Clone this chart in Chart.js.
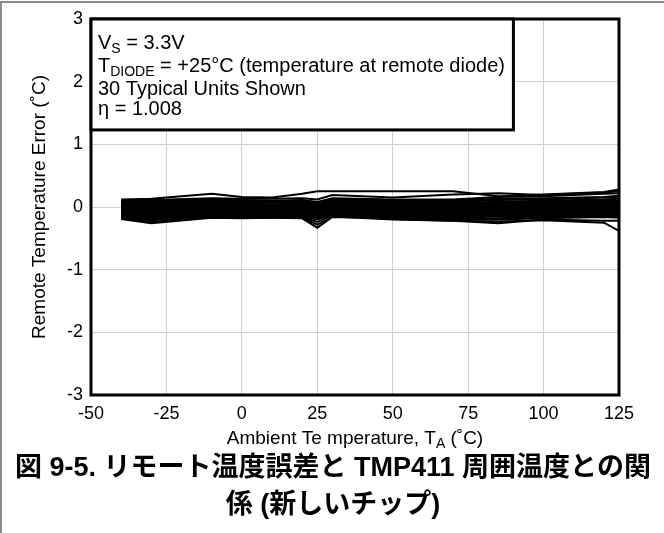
<!DOCTYPE html>
<html>
<head>
<meta charset="utf-8">
<script src="https://cdn.jsdelivr.net/npm/chart.js@4.4.1/dist/chart.umd.min.js"></script>
<style>
  html, body { margin: 0; padding: 0; background: #fff; }
</style>
</head>
<body>
<canvas id="chart" width="664" height="533"></canvas>
<script>
// ambient temperature points (°C)
const temps = [-40, -30, -10, 0, 10, 20, 25, 30, 50, 70, 85, 100, 120, 125];

// remote temperature error (°C), 30 typical units
const unit01 = [0.12, 0.13, 0.21, 0.16, 0.15, 0.21, 0.25, 0.25, 0.25, 0.25, 0.17, 0.20, 0.24, 0.28];
const unit02 = [0.10, 0.11, 0.14, 0.13, 0.13, 0.14, 0.12, 0.19, 0.15, 0.20, 0.22, 0.19, 0.23, 0.25];
const unit03 = [0.09, 0.09, 0.12, 0.11, 0.10, 0.11, 0.08, 0.14, 0.12, 0.12, 0.16, 0.17, 0.21, 0.22];
const unit04 = [0.08, 0.08, 0.11, 0.10, 0.09, 0.09, 0.07, 0.12, 0.11, 0.10, 0.13, 0.14, 0.16, 0.18];
const unit05 = [0.06, 0.07, 0.09, 0.08, 0.08, 0.08, 0.05, 0.10, 0.09, 0.08, 0.11, 0.12, 0.15, 0.15];
const unit06 = [0.07, 0.05, 0.08, 0.06, 0.07, 0.06, 0.03, 0.08, 0.07, 0.07, 0.08, 0.10, 0.12, 0.13];
const unit07 = [0.05, 0.04, 0.06, 0.05, 0.04, 0.05, 0.02, 0.07, 0.06, 0.05, 0.07, 0.09, 0.10, 0.10];
const unit08 = [0.04, 0.03, 0.05, 0.04, 0.04, 0.04, 0.00, 0.05, 0.04, 0.04, 0.05, 0.07, 0.09, 0.08];
const unit09 = [0.03, 0.02, 0.04, 0.02, 0.03, 0.02, -0.01, 0.04, 0.03, 0.02, 0.04, 0.05, 0.07, 0.07];
const unit10 = [0.02, 0.01, 0.03, 0.02, 0.01, 0.02, -0.02, 0.04, 0.02, 0.02, 0.03, 0.04, 0.05, 0.05];
const unit11 = [0.01, 0.00, 0.02, 0.00, 0.01, 0.00, -0.03, 0.02, 0.01, 0.00, 0.02, 0.03, 0.04, 0.04];
const unit12 = [0.00, -0.01, 0.01, -0.01, 0.00, -0.01, -0.04, 0.01, 0.00, -0.01, 0.00, 0.02, 0.03, 0.02];
const unit13 = [-0.01, -0.02, 0.00, -0.02, -0.01, -0.02, -0.05, 0.00, -0.01, -0.02, -0.01, 0.00, 0.01, 0.01];
const unit14 = [-0.02, -0.03, -0.01, -0.02, -0.03, -0.03, -0.06, -0.01, -0.02, -0.03, -0.02, -0.01, 0.00, -0.01];
const unit15 = [-0.03, -0.04, -0.02, -0.04, -0.03, -0.04, -0.07, -0.02, -0.03, -0.04, -0.03, -0.02, -0.01, -0.02];
const unit16 = [-0.04, -0.05, -0.03, -0.05, -0.04, -0.05, -0.08, -0.03, -0.05, -0.05, -0.04, -0.03, -0.02, -0.03];
const unit17 = [-0.05, -0.06, -0.04, -0.06, -0.05, -0.06, -0.09, -0.04, -0.06, -0.06, -0.05, -0.04, -0.03, -0.04];
const unit18 = [-0.06, -0.07, -0.05, -0.07, -0.06, -0.07, -0.10, -0.05, -0.07, -0.07, -0.07, -0.05, -0.04, -0.05];
const unit19 = [-0.07, -0.08, -0.06, -0.08, -0.08, -0.08, -0.11, -0.06, -0.08, -0.08, -0.08, -0.06, -0.06, -0.06];
const unit20 = [-0.08, -0.09, -0.07, -0.09, -0.09, -0.09, -0.12, -0.07, -0.09, -0.09, -0.09, -0.08, -0.07, -0.07];
const unit21 = [-0.09, -0.10, -0.08, -0.10, -0.10, -0.10, -0.13, -0.08, -0.10, -0.10, -0.10, -0.09, -0.08, -0.08];
const unit22 = [-0.10, -0.11, -0.09, -0.11, -0.11, -0.11, -0.14, -0.09, -0.11, -0.11, -0.11, -0.10, -0.09, -0.10];
const unit23 = [-0.11, -0.12, -0.10, -0.12, -0.12, -0.12, -0.16, -0.10, -0.12, -0.12, -0.12, -0.11, -0.10, -0.11];
const unit24 = [-0.12, -0.13, -0.11, -0.13, -0.13, -0.13, -0.18, -0.11, -0.13, -0.14, -0.13, -0.12, -0.11, -0.12];
const unit25 = [-0.13, -0.15, -0.12, -0.14, -0.14, -0.15, -0.20, -0.12, -0.14, -0.15, -0.14, -0.13, -0.13, -0.14];
const unit26 = [-0.14, -0.17, -0.13, -0.15, -0.15, -0.16, -0.24, -0.13, -0.15, -0.17, -0.15, -0.14, -0.14, -0.15];
const unit27 = [-0.15, -0.19, -0.14, -0.16, -0.16, -0.17, -0.28, -0.15, -0.17, -0.19, -0.18, -0.16, -0.15, -0.16];
const unit28 = [-0.17, -0.21, -0.15, -0.17, -0.17, -0.18, -0.33, -0.16, -0.18, -0.20, -0.20, -0.18, -0.16, -0.17];
const unit29 = [-0.18, -0.24, -0.16, -0.17, -0.16, -0.14, -0.12, -0.13, -0.19, -0.22, -0.26, -0.20, -0.22, -0.22];
const unit30 = [-0.19, -0.26, -0.17, -0.18, -0.17, -0.15, -0.14, -0.15, -0.20, -0.22, -0.23, -0.21, -0.25, -0.38];

const units = [unit01, unit02, unit03, unit04, unit05, unit06, unit07, unit08, unit09, unit10,
  unit11, unit12, unit13, unit14, unit15, unit16, unit17, unit18, unit19, unit20,
  unit21, unit22, unit23, unit24, unit25, unit26, unit27, unit28, unit29, unit30];

const noteLines = [
  [{ t: "V" }, { t: "S", sub: true }, { t: " = 3.3V" }],
  [{ t: "T" }, { t: "DIODE", sub: true }, { t: " = +25°C (temperature at remote diode)" }],
  [{ t: "30 Typical Units Shown" }],
  [{ t: "η = 1.008" }]
];
const xTitle = [{ t: "Ambient Te mperature, T" }, { t: "A", sub: true }, { t: " (˚C)" }];
const captionLines = ["図 9-5. リモート温度誤差と TMP411 周囲温度との関", "係 (新しいチップ)"];

const FONT = "'Liberation Sans', Arial, sans-serif";

function drawRuns(ctx, x, y, runs, size, align) {
  const subSize = Math.round(size * 0.72);
  let total = 0;
  runs.forEach(r => {
    ctx.font = (r.sub ? subSize : size) + "px " + FONT;
    total += ctx.measureText(r.t).width;
  });
  let cx = align === "center" ? x - total / 2 : x;
  runs.forEach(r => {
    ctx.font = (r.sub ? subSize : size) + "px " + FONT;
    ctx.fillText(r.t, cx, r.sub ? y + 4 : y);
    cx += ctx.measureText(r.t).width;
  });
}

const decor = {
  id: "decor",
  beforeDraw(chart) {
    const ctx = chart.ctx;
    ctx.save();
    ctx.strokeStyle = "#8a8a8a";
    ctx.lineWidth = 2;
    ctx.beginPath();
    ctx.moveTo(1, 533);
    ctx.lineTo(1, 2);
    ctx.lineTo(664, 2);
    ctx.stroke();
    ctx.restore();
  },
  afterDraw(chart) {
    const { ctx, chartArea: a, scales } = chart;
    ctx.save();
    // plot frame
    ctx.strokeStyle = "#000";
    ctx.lineWidth = 3;
    ctx.strokeRect(a.left, a.top, a.right - a.left, a.bottom - a.top);

    // note box
    const bx = a.left, by = a.top;
    const bw = scales.x.getPixelForValue(90) - a.left;
    const bh = scales.y.getPixelForValue(1.23) - a.top;
    ctx.fillStyle = "#fff";
    ctx.fillRect(bx, by, bw, bh);
    ctx.strokeRect(bx, by, bw, bh);
    ctx.fillStyle = "#000";
    ctx.textBaseline = "alphabetic";
    ctx.textAlign = "left";
    const baselines = [49, 72, 95, 115];
    noteLines.forEach((runs, i) => drawRuns(ctx, bx + 7, baselines[i], runs, 20, "left"));

    // x axis title
    drawRuns(ctx, (a.left + a.right) / 2, 444, xTitle, 19, "center");

    // caption
    ctx.font = "bold 27px 'Liberation Sans', 'Noto Sans CJK JP', sans-serif";
    ctx.textAlign = "center";
    ctx.textBaseline = "middle";
    ctx.fillText(captionLines[0], 333, 469);
    ctx.fillText(captionLines[1], 333, 506);
    ctx.restore();
  }
};

const datasets = units.map((vals, i) => ({
  label: "Unit " + (i + 1),
  data: temps.map((t, j) => ({ x: t, y: vals[j] })),
  borderColor: "#000",
  borderWidth: 2,
  pointRadius: 0,
  tension: 0,
  fill: false
}));

new Chart(document.getElementById("chart"), {
  type: "line",
  data: { datasets },
  plugins: [decor],
  options: {
    responsive: false,
    animation: false,
    layout: { padding: { left: 0, top: 19, right: 45, bottom: 80 } },
    plugins: {
      legend: { display: false },
      tooltip: { enabled: false },
      title: { display: false }
    },
    scales: {
      x: {
        type: "linear",
        min: -50,
        max: 125,
        afterFit: s => { s.height = 58; },
        ticks: { stepSize: 25, autoSkip: false, color: "#000", padding: 8, font: { family: FONT, size: 18 } },
        grid: { color: "#cfcfcf", lineWidth: 1, drawTicks: false },
        border: { display: false }
      },
      y: {
        min: -3,
        max: 3,
        afterFit: s => { s.width = 91; },
        ticks: { stepSize: 1, color: "#000", padding: 8, font: { family: FONT, size: 18 } },
        grid: { color: "#cfcfcf", lineWidth: 1, drawTicks: false },
        border: { display: false },
        title: {
          display: true,
          text: "Remote Temperature Error (˚C)",
          color: "#000",
          font: { family: FONT, size: 19 },
          padding: { top: 28, bottom: 0 }
        }
      }
    }
  }
});
</script>
</body>
</html>
